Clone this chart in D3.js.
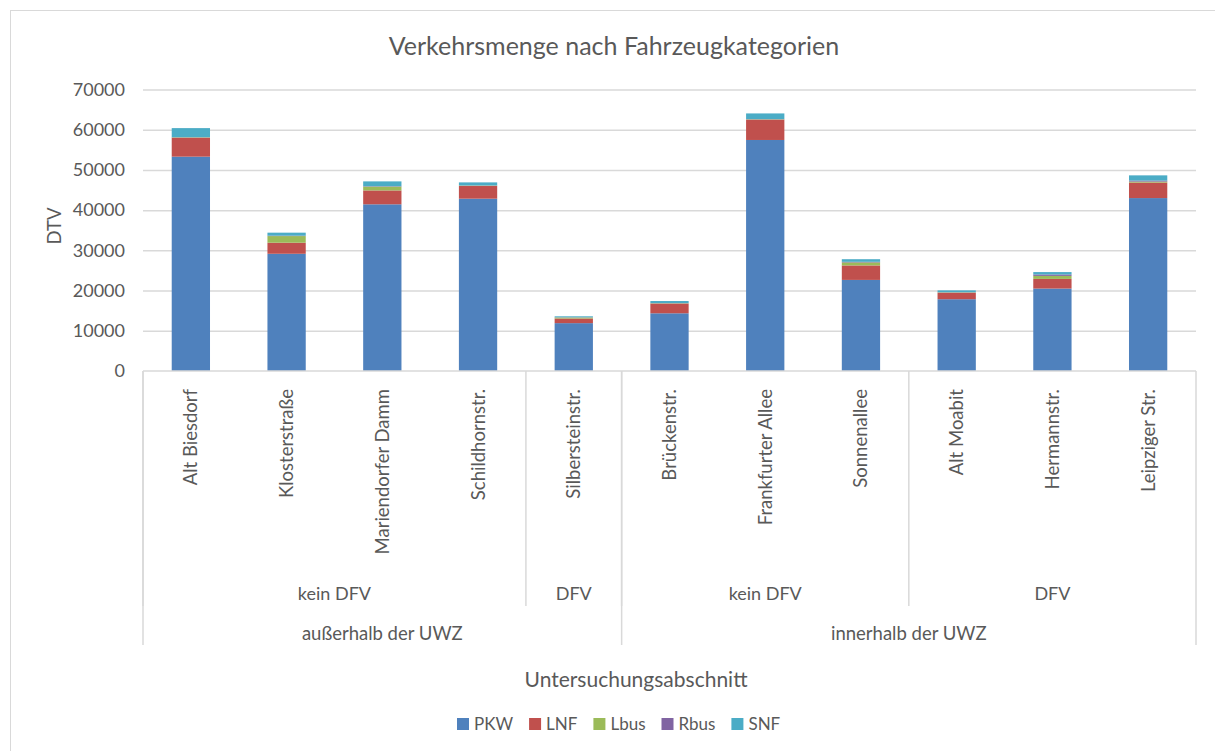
<!DOCTYPE html>
<html>
<head>
<meta charset="utf-8">
<script src="https://cdn.jsdelivr.net/npm/d3@7"></script>
<style>
  body { margin: 0; background: #fff; }
  text { font-family: Lato, "Open Sans", sans-serif; fill: #595959; }
</style>
</head>
<body>
<div id="chart"></div>
<script>
//~~~~~~~~~~~~~~~~~~DATA
const streets = ['Alt Biesdorf', 'Klosterstraße', 'Mariendorfer Damm', 'Schildhornstr.', 'Silbersteinstr.',
  'Brückenstr.', 'Frankfurter Allee', 'Sonnenallee', 'Alt Moabit', 'Hermannstr.', 'Leipziger Str.'];
const keys = ['PKW', 'LNF', 'Lbus', 'Rbus', 'SNF'];
const pkw  = [53300, 29150, 41450, 42850, 11900, 14350, 57450, 22650, 17850, 20500, 43000];
const lnf  = [ 4700,  2750,  3450,  3150,  1150,  2400,  5050,  3600,  1600,  2400,  3850];
const lbus = [  100,  1650,   950,   100,   250,   100,   100,   750,   100,   750,   250];
const rbus = [   50,   100,   100,    50,    50,    50,    50,   150,    50,   350,   250];
const snf  = [ 2250,   750,  1200,   750,   250,   500,  1400,   650,   450,   600,  1300];
const dfvGroups = ['kein DFV', 'DFV', 'kein DFV', 'DFV'];
const dfvSizes = [4, 1, 3, 3];
const uwzGroups = ['außerhalb der UWZ', 'innerhalb der UWZ'];
const uwzSizes = [5, 6];
const yTicks = [0, 10000, 20000, 30000, 40000, 50000, 60000, 70000];
const colors = ['#4f81bd', '#c0504d', '#9bbb59', '#8064a2', '#4bacc6'];

//~~~~~~~~~~~~~~~~~~VARIABLES
let width = 1215;
let height = 751;
let plotLeft = 143, plotRight = 1196, plotTop = 89.5, plotBottom = 371;

let rows = streets.map(function(s, i) {
  return { street: s, PKW: pkw[i], LNF: lnf[i], Lbus: lbus[i], Rbus: rbus[i], SNF: snf[i] };
});

let svg = d3.select('#chart')
  .append('svg')
  .attr('width', width)
  .attr('height', height);

//outer chart border
svg.append('rect')
  .attr('x', 10.5).attr('y', 10.5)
  .attr('width', width).attr('height', height)
  .attr('fill', '#fff')
  .attr('stroke', '#d9d9d9');

let x = d3.scaleBand()
  .domain(streets)
  .range([plotLeft, plotRight])
  .paddingInner(0.6)
  .paddingOuter(0.3);

let y = d3.scaleLinear()
  .domain([0, 70000])
  .range([plotBottom, plotTop]);

let color = d3.scaleOrdinal().domain(keys).range(colors);

//~~~~~~~~~~~~~~~~~~GRID + Y AXIS
svg.append('g')
  .attr('class', 'grid')
  .attr('transform', 'translate(' + plotLeft + ',0)')
  .call(d3.axisLeft(y).tickValues(yTicks.slice(1)).tickSize(-(plotRight - plotLeft)).tickFormat(''))
  .call(function(g) { g.select('.domain').remove(); })
  .call(function(g) { g.selectAll('line').attr('stroke', '#d9d9d9').attr('stroke-width', 1.5); });

svg.append('g')
  .attr('transform', 'translate(' + (plotLeft - 18) + ',0)')
  .call(d3.axisLeft(y).tickValues(yTicks).tickSize(0).tickFormat(d3.format('d')))
  .call(function(g) { g.select('.domain').remove(); })
  .call(function(g) {
    g.selectAll('text').attr('x', 0).attr('font-size', 18)
      .style('font-family', 'Lato, sans-serif').attr('fill', '#595959');
  });

//~~~~~~~~~~~~~~~~~~BARS
let series = d3.stack().keys(keys)(rows);

svg.append('g')
  .selectAll('g')
  .data(series)
  .enter()
  .append('g')
  .attr('fill', function(d) { return color(d.key); })
  .selectAll('rect')
  .data(function(d) { return d; })
  .enter()
  .append('rect')
  .attr('x', function(d) { return x(d.data.street); })
  .attr('width', x.bandwidth())
  .attr('y', function(d) { return y(d[1]); })
  .attr('height', function(d) { return y(d[0]) - y(d[1]); });

//~~~~~~~~~~~~~~~~~~CATEGORY AXIS (multi level)
let step = x.step();
let axis = svg.append('g').attr('stroke', '#d9d9d9').attr('stroke-width', 1.5);

axis.append('line')
  .attr('x1', plotLeft).attr('x2', plotRight)
  .attr('y1', plotBottom).attr('y2', plotBottom);

//inner group separators
let pos = 0;
dfvSizes.forEach(function(n, i) {
  let x0 = plotLeft + pos * step;
  let x1 = plotLeft + (pos + n) * step;
  axis.append('line')
    .attr('x1', x0).attr('x2', x0)
    .attr('y1', plotBottom).attr('y2', 606);
  svg.append('text')
    .attr('x', (x0 + x1) / 2).attr('y', 600)
    .attr('text-anchor', 'middle')
    .attr('font-size', 18)
    .text(dfvGroups[i]);
  pos += n;
});

//outer group separators
pos = 0;
uwzSizes.forEach(function(n, i) {
  let x0 = plotLeft + pos * step;
  let x1 = plotLeft + (pos + n) * step;
  axis.append('line')
    .attr('x1', x0).attr('x2', x0)
    .attr('y1', plotBottom).attr('y2', 645);
  svg.append('text')
    .attr('x', (x0 + x1) / 2).attr('y', 640)
    .attr('text-anchor', 'middle')
    .attr('font-size', 18.5)
    .text(uwzGroups[i]);
  pos += n;
});
axis.append('line')
  .attr('x1', plotRight).attr('x2', plotRight)
  .attr('y1', plotBottom).attr('y2', 645);

//street names, rotated
svg.append('g')
  .selectAll('text')
  .data(streets)
  .enter()
  .append('text')
  .attr('transform', function(d) {
    return 'translate(' + (x(d) + x.bandwidth() / 2) + ',389) rotate(-90)';
  })
  .attr('text-anchor', 'end')
  .attr('dy', '0.35em')
  .attr('font-size', 18.5)
  .text(function(d) { return d; });

//~~~~~~~~~~~~~~~~~~TITLES
svg.append('text')
  .attr('x', 614).attr('y', 55)
  .attr('text-anchor', 'middle')
  .attr('font-size', 25)
  .text('Verkehrsmenge nach Fahrzeugkategorien');

svg.append('text')
  .attr('transform', 'translate(55,226) rotate(-90)')
  .attr('text-anchor', 'middle')
  .attr('dy', '0.35em')
  .attr('font-size', 18.5)
  .text('DTV');

svg.append('text')
  .attr('x', 636).attr('y', 687)
  .attr('text-anchor', 'middle')
  .attr('font-size', 21)
  .text('Untersuchungsabschnitt');

//~~~~~~~~~~~~~~~~~~LEGEND
let legend = svg.append('g').attr('transform', 'translate(0,724)');
let lx = 457;
keys.forEach(function(k) {
  legend.append('rect')
    .attr('x', lx).attr('y', -6)
    .attr('width', 12).attr('height', 12)
    .attr('fill', color(k));
  let t = legend.append('text')
    .attr('x', lx + 17).attr('dy', '0.35em')
    .attr('font-size', 17)
    .text(k);
  lx += 17 + t.node().getComputedTextLength() + 16;
});
</script>
</body>
</html>
